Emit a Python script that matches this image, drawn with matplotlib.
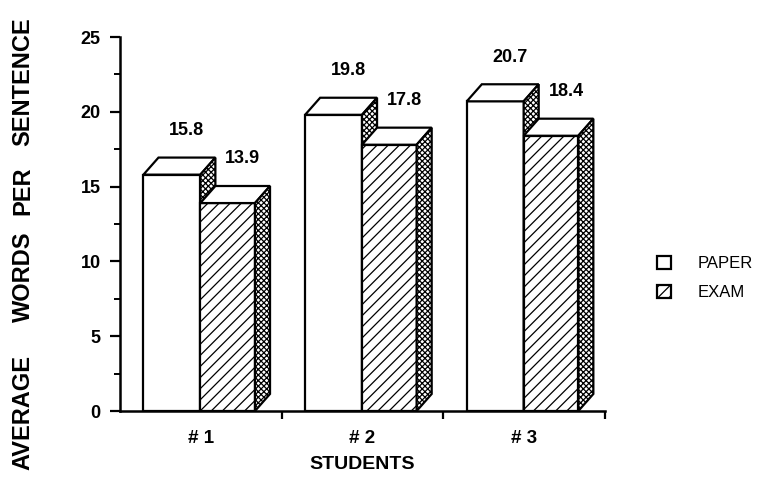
"""Average sentence length of three students: term paper vs. exam writing"""

import matplotlib.pyplot as plt
from matplotlib.patches import Patch, Polygon

plt.rcParams['font.family'] = ['Liberation Sans', 'DejaVu Sans']
plt.rcParams['hatch.linewidth'] = 0.9

students = ['# 1', '# 2', '# 3']
paper = [15.8, 19.8, 20.7]
exam = [13.9, 17.8, 18.4]

# depth of the fake 3-D boxes, in data units
DX = 0.093
DY = 1.14
PAPER_W = 0.352
EXAM_W = 0.338


def draw_box(ax, x0, width, height, hatch, z):
    """Front face as a bar, plus top and side faces as polygons"""
    ax.bar(x0, height, width, align='edge', facecolor='white', edgecolor='black',
           linewidth=1.6, hatch=hatch, zorder=z)
    x1 = x0 + width
    top = [(x0, height), (x0 + DX, height + DY), (x1 + DX, height + DY), (x1, height)]
    side = [(x1, 0), (x1, height), (x1 + DX, height + DY), (x1 + DX, DY)]
    ax.add_patch(Polygon(top, closed=True, facecolor='white', edgecolor='black',
                         linewidth=1.6, zorder=z))
    ax.add_patch(Polygon(side, closed=True, facecolor='white', edgecolor='black',
                         linewidth=1.6, hatch='xxxxxx', zorder=z))


fig = plt.figure(figsize=(7.61, 4.83), dpi=100)
ax = fig.add_axes([120 / 761, 72 / 483, 485 / 761, 374 / 483])

for i, (p, e) in enumerate(zip(paper, exam)):
    px = i - 0.355
    ex = i - 0.003
    draw_box(ax, px, PAPER_W, p, None, 2)
    draw_box(ax, ex, EXAM_W, e, '///', 3)
    ax.text(px + PAPER_W / 2 + DX, p + 2.95, f'{p:.1f}', ha='center', va='center',
            fontsize=13, fontweight='bold')
    ax.text(ex + EXAM_W / 2 + DX, e + 2.95, f'{e:.1f}', ha='center', va='center',
            fontsize=13, fontweight='bold')

ax.set_xlim(-0.5, 2.5)
ax.set_ylim(0, 25)

for side in ['top', 'right']:
    ax.spines[side].set_visible(False)
for side in ['left', 'bottom']:
    ax.spines[side].set_linewidth(1.8)

ax.set_yticks([0, 5, 10, 15, 20, 25])
ax.set_yticks([2.5, 7.5, 12.5, 17.5, 22.5], minor=True)
ax.tick_params(axis='y', which='major', length=7, width=1.6, labelsize=13, pad=7)
ax.tick_params(axis='y', which='minor', length=4, width=1.4)
for lbl in ax.get_yticklabels():
    lbl.set_fontweight('bold')

# category labels sit between the boundary ticks
ax.set_xticks(range(len(students)))
ax.set_xticklabels(students, fontsize=13.5, fontweight='bold')
ax.tick_params(axis='x', which='major', length=0, pad=14)
ax.set_xticks([0.5, 1.5, 2.5], minor=True)
ax.tick_params(axis='x', which='minor', length=6, width=1.6)

ax.set_xlabel('STUDENTS', fontsize=14, fontweight='bold', labelpad=6)

# y-axis title, words spaced out along the axis
for word, yc in [('AVERAGE', 412), ('WORDS', 277), ('PER', 191), ('SENTENCE', 82)]:
    fig.text(23 / 761, 1 - yc / 483, word, rotation=90, ha='center', va='center',
             fontsize=17, fontweight='bold')

handles = [Patch(facecolor='white', edgecolor='black', linewidth=1.6, label='PAPER'),
           Patch(facecolor='white', edgecolor='black', linewidth=1.6, hatch='///', label='EXAM')]
fig.legend(handles=handles, loc='center left', bbox_to_anchor=(642 / 761, 1 - 278 / 483),
           frameon=False, fontsize=12, handlelength=0.85, handleheight=0.85,
           handletextpad=1.6, labelspacing=0.8)

fig.savefig('out.png', dpi=100)
